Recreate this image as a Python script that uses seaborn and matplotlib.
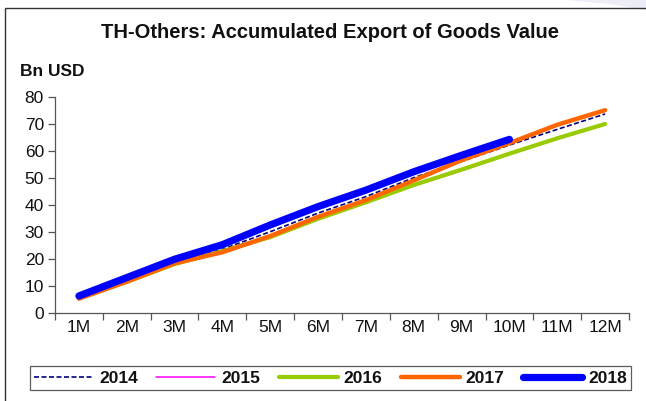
import matplotlib
matplotlib.use("Agg")
import matplotlib.pyplot as plt
from matplotlib.patches import Rectangle, Polygon
import seaborn as sns
import pandas as pd

months = ["1M", "2M", "3M", "4M", "5M", "6M", "7M", "8M", "9M", "10M", "11M", "12M"]
y2014 = [5.5, 11.8, 18.5, 23.5, 30.0, 36.9, 43.0, 50.0, 56.0, 62.1, 67.9, 73.6]
y2015 = [5.3, 11.2, 17.8, 22.6, 27.8, 34.5, 40.6, 47.0, 52.6, 58.6, 64.3, 69.6]
y2016 = [5.4, 11.4, 18.0, 22.8, 28.0, 34.8, 40.9, 47.3, 53.0, 58.9, 64.6, 69.9]
y2017 = [5.2, 11.5, 18.3, 22.4, 28.4, 35.5, 41.7, 49.0, 56.5, 62.8, 69.6, 75.0]
y2018 = [6.2, 13.0, 19.8, 25.2, 32.5, 39.3, 45.4, 52.2, 58.3, 64.2]
yticks = [0, 10, 20, 30, 40, 50, 60, 70, 80]

series = [
    ("2014", y2014, "#000080", 1.2, (0, (3, 1.5))),
    ("2015", y2015, "#FF00FF", 1.1, "-"),
    ("2016", y2016, "#99CC00", 3.0, "-"),
    ("2017", y2017, "#FF6600", 3.2, "-"),
    ("2018", y2018, "#0000FF", 5.2, "-"),
]

sns.set_theme(style="white")
plt.rcParams["font.family"] = ["Liberation Sans", "DejaVu Sans"]

fig = plt.figure(figsize=(6.46, 4.01), dpi=100)
ax = fig.add_axes([55 / 646, 1 - 312.7 / 401, (629 - 55) / 646, (312.7 - 96.7) / 401])

# faint shading in the top-right corner and the outer frame
fig.patches.append(Polygon([(565 / 646, 1), (1, 1), (1, 0.975), (610 / 646, 0.99)],
                           closed=True, transform=fig.transFigure,
                           facecolor="#EDEDF7", edgecolor="none", zorder=0))
fig.patches.append(Rectangle((5 / 646, -0.1), 1.1, 1 - 7.5 / 401 + 0.1,
                             transform=fig.transFigure, fill=False,
                             edgecolor="#333333", linewidth=1.0, zorder=1))

for name, vals, color, lw, ls in series:
    df = pd.DataFrame({"pos": range(len(vals)), "val": vals})
    sns.lineplot(data=df, x="pos", y="val", ax=ax, color=color, linewidth=lw,
                 linestyle=ls, solid_capstyle="round", dash_capstyle="butt",
                 label=name, legend=False)

ax.set_xlim(-0.5, len(months) - 0.5)
ax.set_ylim(0, 80)
ax.set_yticks(yticks)
ax.set_yticklabels([str(t) for t in yticks], fontsize=12.5, color="#111111")
ax.set_xticks(range(len(months)))
ax.set_xticklabels(months, fontsize=12.5, color="#111111")
ax.set_xticks([i - 0.5 for i in range(len(months) + 1)], minor=True)
ax.tick_params(axis="x", which="major", length=0, pad=5)
ax.tick_params(axis="x", which="minor", length=5, width=0.9, color="#555555", direction="out", bottom=True)
ax.tick_params(axis="y", which="major", length=5, width=0.9, color="#555555", direction="out", left=True, pad=3)
ax.set_xlabel("")
ax.set_ylabel("")
for s in ["top", "right"]:
    ax.spines[s].set_visible(False)
for s in ["left", "bottom"]:
    ax.spines[s].set_color("#555555")
    ax.spines[s].set_linewidth(0.9)

fig.text(330 / 646, 1 - 33 / 401, "TH-Others: Accumulated Export of Goods Value",
         ha="center", va="center", fontsize=14.5, fontweight="bold", color="#111111")
fig.text(20 / 646, 1 - 72 / 401, "Bn USD", ha="left", va="center",
         fontsize=12.5, fontweight="bold", color="#111111")

lines = ax.get_lines()
leg = fig.legend(lines, [s[0] for s in series], ncol=5,
                 loc="center", bbox_to_anchor=(330.5 / 646, 1 - 378 / 401),
                 frameon=True, fancybox=False, handlelength=3.4, handletextpad=0.35,
                 columnspacing=1.05, borderpad=0.25,
                 prop={"weight": "bold", "size": 12.5})
leg.get_frame().set_edgecolor("#333333")
leg.get_frame().set_linewidth(0.9)
for t in leg.get_texts():
    t.set_color("#111111")

fig.savefig("out.png", dpi=100)
